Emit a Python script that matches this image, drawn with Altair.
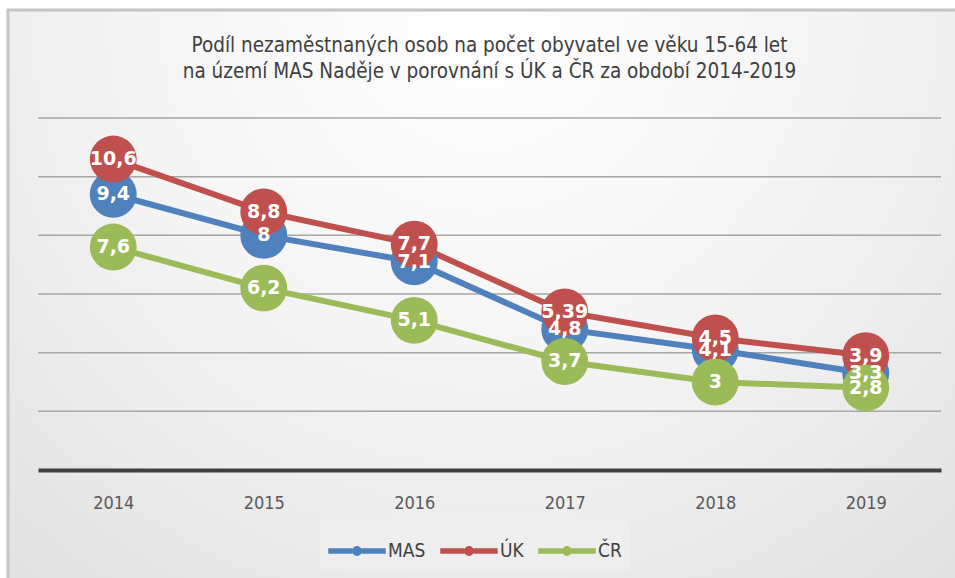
import altair as alt
import pandas as pd

years = ["2014", "2015", "2016", "2017", "2018", "2019"]
series_names = ["MAS", "ÚK", "ČR"]
mas = [9.4, 8.0, 7.1, 4.8, 4.1, 3.3]
uk = [10.6, 8.8, 7.7, 5.39, 4.5, 3.9]
cr = [7.6, 6.2, 5.1, 3.7, 3.0, 2.8]
grid_values = [2, 4, 6, 8, 10, 12]
colors = ["#4f81bd", "#c0504d", "#9bbb59"]
title_lines = [
    "Podíl nezaměstnaných osob na počet obyvatel ve věku 15-64 let",
    "na území MAS Naděje v porovnání s ÚK a ČR za období 2014-2019",
]

rows = []
for si, (name, vals) in enumerate(zip(series_names, [mas, uk, cr])):
    for y, v in zip(years, vals):
        rows.append({"year": y, "series": name, "value": v, "order": si})
df = pd.DataFrame(rows)

W, H = 903, 352
PL, PT = 38, 118

x_enc = alt.X("year:N", scale=alt.Scale(type="point", padding=0.5),
              axis=alt.Axis(title=None, labelAngle=0, ticks=False, domain=True,
                            domainColor="#404040", domainWidth=4,
                            labelFontSize=18, labelColor="#595959",
                            labelFont="Liberation Sans Narrow, DejaVu Sans Condensed, sans-serif",
                            labelPadding=24, grid=False, zindex=1))
yscale = alt.Scale(domain=[0, 12], nice=False)
y_enc = alt.Y("value:Q", scale=yscale, axis=None)
cscale = alt.Scale(domain=series_names, range=colors)

legend_path = ("M -1 -0.1 L -0.16 -0.1 L -0.16 0.1 L -1 0.1 Z "
               "M 0.16 -0.1 L 1 -0.1 L 1 0.1 L 0.16 0.1 Z "
               "M -0.17 0 A 0.17 0.17 0 1 1 0.17 0 A 0.17 0.17 0 1 1 -0.17 0 Z")
legend = alt.Legend(title=None, orient="none", direction="horizontal",
                    legendX=282, legendY=396,
                    symbolType=legend_path, symbolSize=3300,
                    symbolStrokeWidth=0, symbolOpacity=1,
                    labelFontSize=19, labelColor="#404040",
                    labelFont="DejaVu Sans Condensed",
                    labelOffset=2, columnPadding=14,
                    padding=8, fillColor="#eeeeee",
                    symbolOffset=0, zindex=3)

bg = alt.Chart(pd.DataFrame({"a": [0]})).mark_rect(
    stroke="#c4c4c4", strokeWidth=3,
    color=alt.RadialGradient(
        gradient="radial",
        stops=[alt.GradientStop(color="#ffffff", offset=0),
               alt.GradientStop(color="#f4f4f4", offset=0.45),
               alt.GradientStop(color="#dedede", offset=1)],
        x1=0.5, y1=0.2, r1=0, x2=0.5, y2=0.2, r2=0.85),
).encode(x=alt.value(8 - PL), x2=alt.value(960 - PL),
         y=alt.value(10 - PT), y2=alt.value(585 - PT))

grid = alt.Chart(pd.DataFrame({"g": grid_values})).mark_rule(
    color="#a6a6a6", strokeWidth=1.5).encode(
    y=alt.Y("g:Q", scale=yscale, axis=None))

base = alt.Chart(df)

line_layers = [
    base.transform_filter(alt.datum.series == name).mark_line(
        color=col, strokeWidth=6).encode(x=x_enc, y=y_enc)
    for name, col in zip(series_names, colors)
]

points = base.mark_point(filled=True, size=2200, opacity=1, shape="circle").encode(
    x=x_enc, y=y_enc, color=alt.Color("series:N", scale=cscale, legend=legend),
    order=alt.Order("order:Q"))

labels = base.transform_calculate(
    lbl="replace(toString(datum.value), '.', ',')"
).mark_text(color="white", fontSize=19, fontWeight="bold", font="DejaVu Sans",
            baseline="middle", align="center").encode(
    x=x_enc, y=y_enc, text="lbl:N", order=alt.Order("order:Q"))

chart = alt.layer(bg, grid, *line_layers, points, labels).properties(
    width=W, height=H,
    autosize=alt.AutoSizeParams(type="none"),
    padding={"left": PL, "top": PT, "right": 955 - PL - W, "bottom": 578 - PT - H},
    background="white",
    title=alt.TitleParams(text=title_lines, fontSize=20.5, font="DejaVu Sans Condensed",
                          fontWeight="normal", color="#404040", anchor="middle",
                          frame="group", lineHeight=26, offset=-74, zindex=3),
).configure_view(stroke=None)

chart.save("out.html", embed_options={"renderer": "svg", "actions": False})
